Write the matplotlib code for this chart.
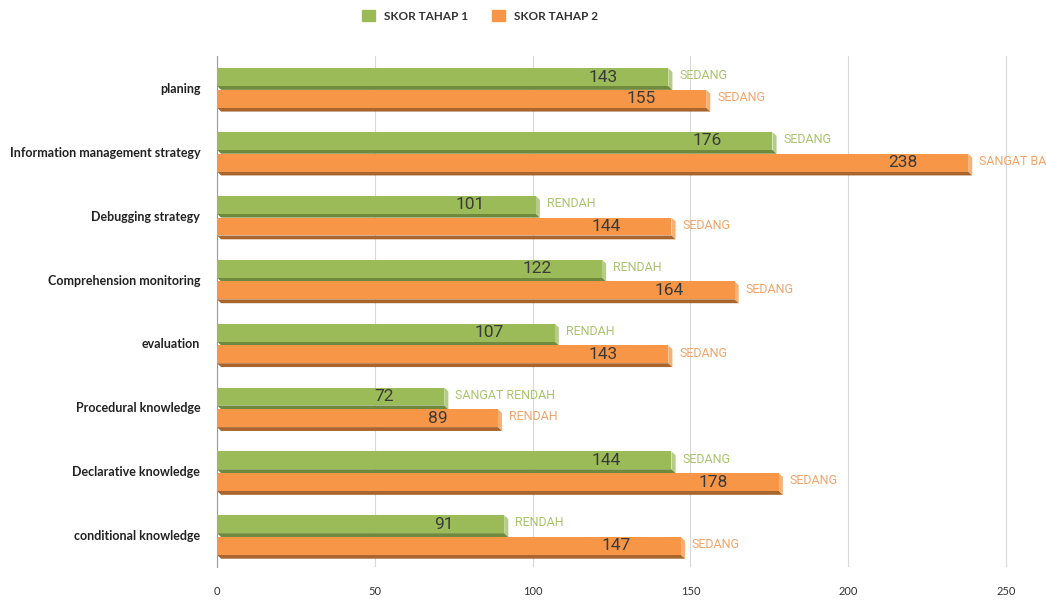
import matplotlib.pyplot as plt
import numpy as np
from matplotlib.patches import Patch

categories = ["planing", "Information management strategy", "Debugging strategy",
              "Comprehension monitoring", "evaluation", "Procedural knowledge",
              "Declarative knowledge", "conditional knowledge"]
skor1 = [143, 176, 101, 122, 107, 72, 144, 91]
skor2 = [155, 238, 144, 164, 143, 89, 178, 147]
kat1 = ["SEDANG", "SEDANG", "RENDAH", "RENDAH", "RENDAH", "SANGAT RENDAH", "SEDANG", "RENDAH"]
kat2 = ["SEDANG", "SANGAT BAIK", "SEDANG", "SEDANG", "SEDANG", "RENDAH", "SEDANG", "SEDANG"]
xticks = [0, 50, 100, 150, 200, 250]

green, green_dark, green_txt = "#9BBB59", "#6F8A3C", "#A9C46E"
orange, orange_dark, orange_txt = "#F79646", "#A8652E", "#F2A468"

plt.rcParams['font.family'] = ['Lato', 'DejaVu Sans']

fig = plt.figure(figsize=(10.46, 6), dpi=100)
ax = fig.add_axes([217/1046, 1 - 567/600, 1 - 217/1046, (567 - 56)/600])

y = np.arange(len(categories))
h = 0.28
sh = 0.06


def draw(vals, offset, col, dark, txtcol, kats):
    for yi, v, k in zip(y, vals, kats):
        yc = yi + offset
        top = yc - h / 2
        bot = yc + h / 2
        # dark strip under the bar
        ax.fill([0, v, v + 1.3, 1.3], [bot, bot, bot + sh, bot + sh], color=dark, lw=0, zorder=2)
        # bevelled end
        ax.fill([v, v + 1.3, v + 1.3, v], [top, top + sh, bot + sh, bot], color=col, lw=0, zorder=2, alpha=0.75)
        ax.barh(yc, v, height=h, color=col, zorder=3)
        ax.text(v - 16, yc, str(v), ha='right', va='center', fontsize=12.5, color='#3a3a3a', zorder=4,
                family=['Roboto', 'DejaVu Sans'])
        ax.text(v + 3.5, yc - 0.02, k, ha='left', va='center', fontsize=9, color=txtcol, zorder=4,
                family=['Roboto', 'DejaVu Sans'], clip_on=True)


draw(skor1, -0.17, green, green_dark, green_txt, kat1)
draw(skor2, 0.17, orange, orange_dark, orange_txt, kat2)

ax.set_xlim(0, 250 * (1046 - 217) / (1006 - 217))
ax.set_ylim(len(categories) - 0.5, -0.5)
ax.set_yticks(y)
ax.set_yticklabels(categories, fontsize=9, fontweight='bold', color='#222222')
ax.set_xticks(xticks)
ax.set_xticklabels([str(t) for t in xticks], fontsize=8, color='#333333')
ax.tick_params(axis='y', length=0, pad=12)
ax.tick_params(axis='x', length=0, pad=14)
ax.grid(axis='x', color='#d8d8d8', lw=0.8, zorder=0)
for s in ['top', 'right', 'bottom']:
    ax.spines[s].set_visible(False)
ax.spines['left'].set_color('#999999')

handles = [Patch(color=green, label="SKOR TAHAP 1"), Patch(color=orange, label="SKOR TAHAP 2")]
leg = fig.legend(handles=handles, loc='center', bbox_to_anchor=(480/1046, 1 - 16/600), ncol=2,
                 frameon=False, fontsize=8.5, handlelength=1.1, handleheight=1.1, columnspacing=2.0)
for t in leg.get_texts():
    t.set_fontweight('bold')
    t.set_color('#333333')

fig.savefig("out.png", dpi=100)
